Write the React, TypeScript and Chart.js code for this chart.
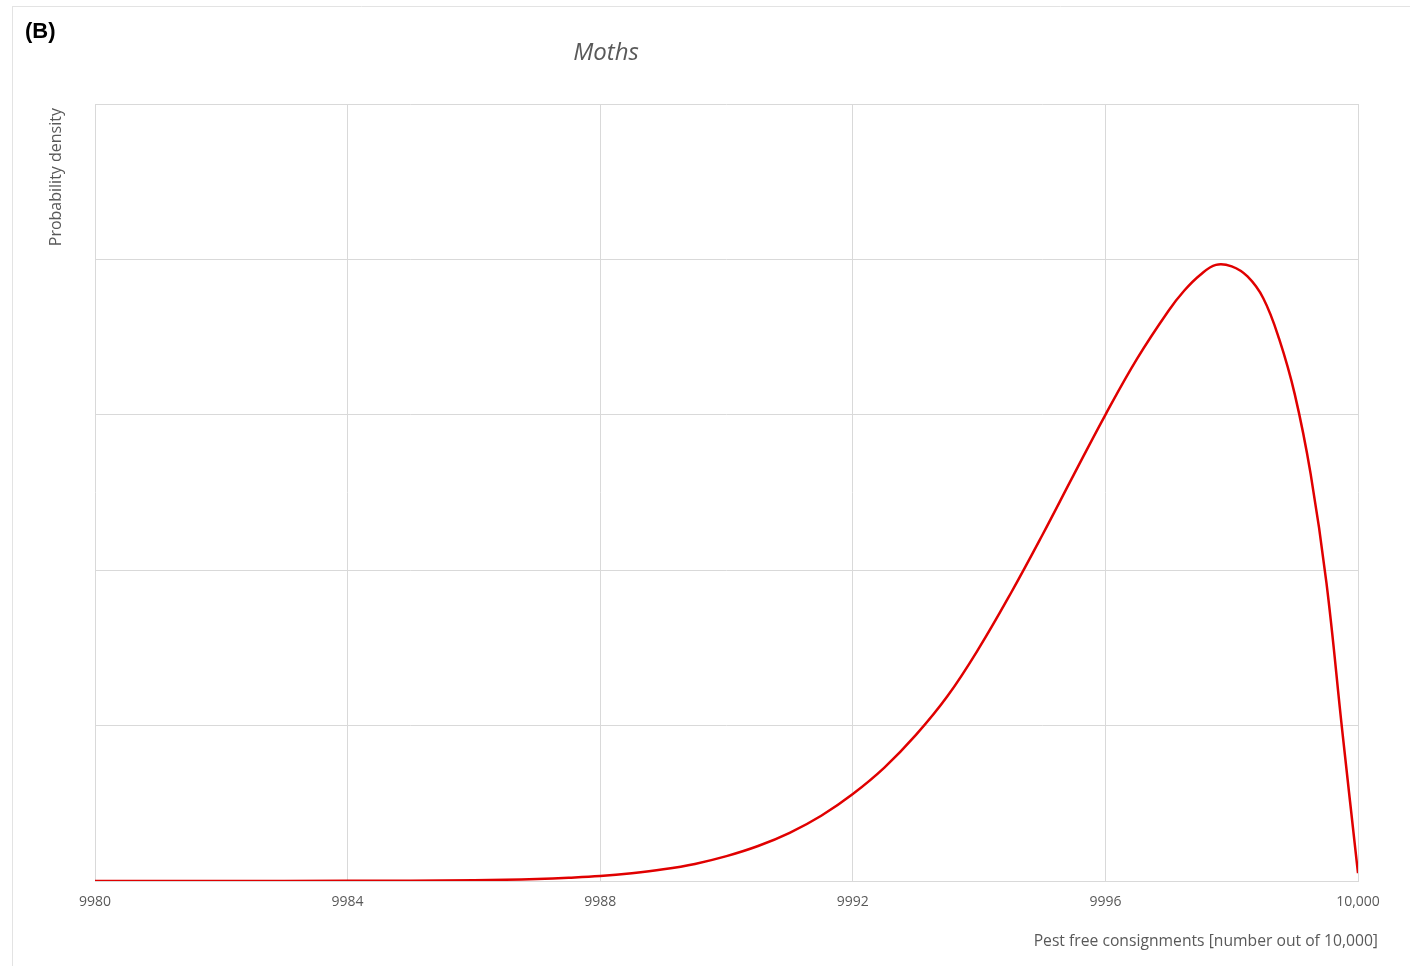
import React, { useEffect, useRef } from "react";
import { Chart, registerables } from "chart.js";

Chart.register(...registerables);

const panelLabel = "(B)";
const chartTitle = "Moths";
const yAxisTitle = "Probability density";
const xAxisTitle = "Pest free consignments [number out of 10,000]";

const xTickValues = [9980, 9984, 9988, 9992, 9996, 10000];
const xTickLabels = ["9980", "9984", "9988", "9992", "9996", "10,000"];

const consignments = [
  9980, 9982, 9984, 9985, 9986, 9986.5, 9987, 9987.5, 9988, 9988.5, 9989, 9989.5,
  9990, 9990.5, 9991, 9991.5, 9992, 9992.5, 9993, 9993.5, 9994, 9994.5, 9995,
  9995.5, 9996, 9996.5, 9997, 9997.25, 9997.5, 9997.75, 9998, 9998.25, 9998.5,
  9998.75, 9999, 9999.25, 9999.5, 9999.75, 10000,
];
const density = [
  0, 0, 0.001, 0.002, 0.005, 0.008, 0.013, 0.021, 0.032, 0.05, 0.075, 0.11,
  0.16, 0.225, 0.31, 0.42, 0.56, 0.73, 0.94, 1.19, 1.5, 1.85, 2.225,
  2.615, 3.0, 3.36, 3.67, 3.8, 3.9, 3.965, 3.955, 3.89, 3.75,
  3.49, 3.13, 2.62, 1.92, 0.97, 0.05,
];

const TEXT = "#595959";
const GRID = "#d9d9d9";

const textPlugin = {
  id: "staticText",
  beforeDraw(chart: any) {
    const ctx = chart.ctx;
    ctx.save();
    ctx.fillStyle = "#ffffff";
    ctx.fillRect(0, 0, chart.width, chart.height);
    ctx.strokeStyle = "#e3e3e3";
    ctx.lineWidth = 1;
    ctx.beginPath();
    ctx.moveTo(12, 6.5);
    ctx.lineTo(chart.width, 6.5);
    ctx.moveTo(12.5, 6);
    ctx.lineTo(12.5, chart.height);
    ctx.stroke();
    ctx.restore();
  },
  afterDraw(chart: any) {
    const ctx = chart.ctx;
    ctx.save();
    ctx.fillStyle = "#000000";
    ctx.font = "bold 22px 'Liberation Sans', Arial, sans-serif";
    ctx.textBaseline = "middle";
    ctx.textAlign = "left";
    ctx.fillText(panelLabel, 25, 32);

    ctx.fillStyle = TEXT;
    ctx.font = "italic 24px 'Open Sans', sans-serif";
    ctx.textAlign = "center";
    ctx.fillText(chartTitle, 606, 53);

    ctx.font = "15.7px 'Open Sans', sans-serif";
    ctx.textAlign = "right";
    ctx.fillText(xAxisTitle, 1378, 942);

    ctx.font = "16px 'Open Sans', sans-serif";
    ctx.translate(56, 108);
    ctx.rotate(-Math.PI / 2);
    ctx.textAlign = "right";
    ctx.fillText(yAxisTitle, 0, 0);
    ctx.restore();
  },
};

export default function App() {
  const ref = useRef<HTMLCanvasElement | null>(null);

  useEffect(() => {
    if (!ref.current) return;
    const points = consignments.map((x, i) => ({ x, y: density[i] }));
    const chart = new Chart(ref.current, {
      type: "line",
      data: {
        datasets: [
          {
            data: points,
            borderColor: "#e00000",
            borderWidth: 2.5,
            pointRadius: 0,
            fill: false,
            tension: 0.4,
          },
        ],
      },
      options: {
        responsive: false,
        animation: false,
        events: [],
        layout: { padding: { left: 0, right: 52, top: 104, bottom: 0 } },
        plugins: {
          legend: { display: false },
          title: { display: false },
          tooltip: { enabled: false },
        },
        scales: {
          x: {
            type: "linear",
            min: 9980,
            max: 10000,
            afterBuildTicks(scale: any) {
              scale.ticks = xTickValues.map((v) => ({ value: v }));
            },
            afterFit(scale: any) {
              scale.height = 85;
            },
            ticks: {
              color: TEXT,
              font: { family: "'Open Sans', sans-serif", size: 14 },
              padding: 13,
              maxRotation: 0,
              autoSkip: false,
              callback: (v: any) => {
                const i = xTickValues.indexOf(Number(v));
                return i >= 0 ? xTickLabels[i] : "";
              },
            },
            grid: { color: GRID, drawTicks: false, lineWidth: 1 },
            border: { color: GRID, width: 1 },
          },
          y: {
            type: "linear",
            min: 0,
            max: 5,
            ticks: { display: false, stepSize: 1 },
            afterFit(scale: any) {
              scale.width = 95;
            },
            grid: { color: GRID, drawTicks: false, lineWidth: 1 },
            border: { display: false },
          },
        },
      },
      plugins: [textPlugin],
    } as any);
    return () => chart.destroy();
  }, []);

  return (
    <div style={{ position: "absolute", left: 0, top: 0, width: 1410, height: 966 }}>
      <canvas ref={ref} width={1410} height={966} style={{ display: "block" }} />
    </div>
  );
}
